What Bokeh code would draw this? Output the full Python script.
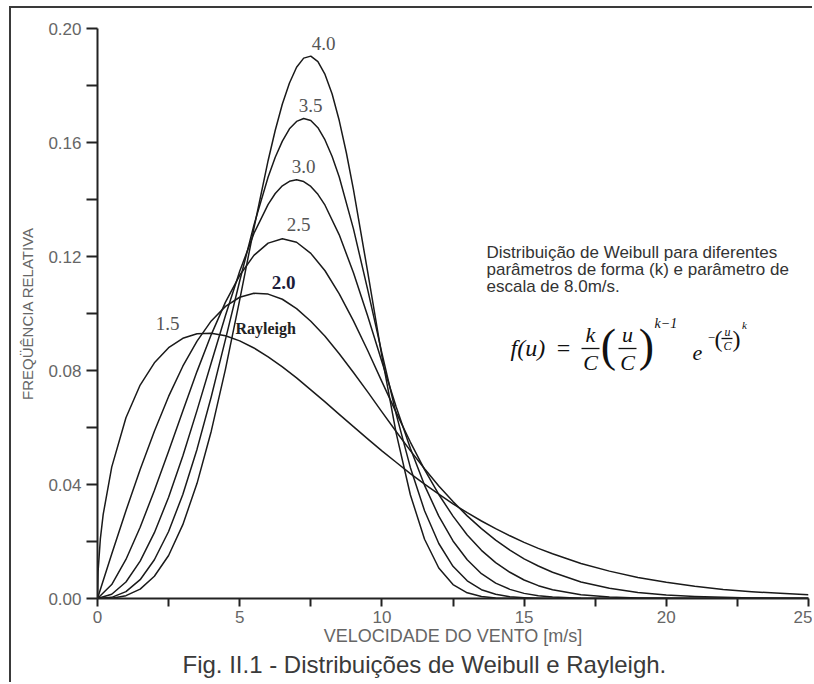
from bokeh.plotting import figure
from bokeh.models import Range1d, FixedTicker, PrintfTickFormatter, Label, Title
from bokeh.embed import file_html
from bokeh.resources import INLINE

# ---------------- data ----------------
x_ticks = [0, 5, 10, 15, 20, 25]
x_minor = [2.5, 7.5, 12.5, 17.5, 22.5]
y_ticks = [0.00, 0.04, 0.08, 0.12, 0.16, 0.20]
y_minor = [0.02, 0.06, 0.10, 0.14, 0.18]

x_base = [0, 0.5, 1, 1.5, 2, 2.5, 3, 3.5, 4, 4.5, 5, 5.5, 6, 6.5, 7, 7.5, 8, 8.5, 9, 9.5,
          10, 10.5, 11, 11.5, 12, 12.5, 13, 13.5, 14, 14.5, 15, 15.5, 16,
          17, 18, 19, 20, 21, 22, 23, 24, 25]

x_k15 = [0, 0.02, 0.1, 0.2, 0.5, 1, 1.5, 2, 2.5, 3, 3.5, 4, 4.5, 5, 5.5, 6, 6.5, 7, 7.5, 8,
         8.5, 9, 9.5, 10, 10.5, 11, 11.5, 12, 12.5, 13, 13.5, 14, 14.5, 15, 15.5, 16,
         17, 18, 19, 20, 21, 22, 23, 24, 25]
f_k15 = [0, 0.0094, 0.0209, 0.0295, 0.0461, 0.0634, 0.0749, 0.0827, 0.0880, 0.0913, 0.0929,
         0.0931, 0.0922, 0.0904, 0.0879, 0.0848, 0.0813, 0.0774, 0.0732, 0.0690, 0.0646,
         0.0603, 0.0560, 0.0518, 0.0478, 0.0438, 0.0401, 0.0366, 0.0332, 0.0301, 0.0272,
         0.0245, 0.0220, 0.0197, 0.0176, 0.0157, 0.0123, 0.0096, 0.0074, 0.0057, 0.0043,
         0.0032, 0.0024, 0.0018, 0.0013]

f_k20 = [0, 0.0156, 0.0308, 0.0453, 0.0587, 0.0709, 0.0815, 0.0903, 0.0974, 0.1025, 0.1057,
         0.1071, 0.1068, 0.1050, 0.1017, 0.0973, 0.0920, 0.0859, 0.0793, 0.0725, 0.0655,
         0.0586, 0.0519, 0.0455, 0.0395, 0.0340, 0.0290, 0.0245, 0.0205, 0.0170, 0.0139,
         0.0114, 0.0092, 0.0058, 0.0036, 0.0021, 0.0012, 0.0007, 0.0004, 0.0002, 0.0001, 0.0]

f_k25 = [0, 0.0049, 0.0137, 0.0250, 0.0379, 0.0517, 0.0658, 0.0797, 0.0926, 0.1040, 0.1134,
         0.1204, 0.1247, 0.1262, 0.1250, 0.1211, 0.1150, 0.1069, 0.0974, 0.0870, 0.0761,
         0.0653, 0.0549, 0.0452, 0.0365, 0.0289, 0.0223, 0.0169, 0.0126, 0.0092, 0.0065,
         0.0045, 0.0031, 0.0013, 0.0005, 0.0002, 0.0001, 0, 0, 0, 0, 0]

x_k30 = [0, 0.5, 1, 1.5, 2, 2.5, 3, 3.5, 4, 4.5, 5, 5.5, 6, 6.25, 6.5, 6.75, 7, 7.25, 7.5,
         7.75, 8, 8.5, 9, 9.5, 10, 10.5, 11, 11.5, 12, 12.5, 13, 13.5, 14, 14.5, 15, 15.5,
         16, 17, 18, 25]
f_k30 = [0, 0.0015, 0.0058, 0.0131, 0.0231, 0.0355, 0.0500, 0.0660, 0.0827, 0.0993, 0.1148,
         0.1281, 0.1383, 0.1421, 0.1448, 0.1464, 0.1469, 0.1463, 0.1446, 0.1418, 0.1380,
         0.1276, 0.1143, 0.0991, 0.0831, 0.0673, 0.0527, 0.0397, 0.0289, 0.0202, 0.0136,
         0.0087, 0.0054, 0.0032, 0.0018, 0.0010, 0.0005, 0.0001, 0, 0]

x_k35 = [0, 0.5, 1, 1.5, 2, 2.5, 3, 3.5, 4, 4.5, 5, 5.5, 6, 6.25, 6.5, 6.75, 7, 7.25, 7.5,
         7.75, 8, 8.25, 8.5, 9, 9.5, 10, 10.5, 11, 11.5, 12, 12.5, 13, 13.5, 14, 14.5, 15,
         15.5, 16, 25]
f_k35 = [0, 0.0004, 0.0024, 0.0066, 0.0136, 0.0235, 0.0365, 0.0524, 0.0708, 0.0909, 0.1114,
         0.1310, 0.1479, 0.1548, 0.1605, 0.1648, 0.1674, 0.1684, 0.1677, 0.1652, 0.1609,
         0.1551, 0.1479, 0.1297, 0.1084, 0.0861, 0.0648, 0.0460, 0.0308, 0.0193, 0.0113,
         0.0062, 0.0031, 0.0015, 0.0006, 0.0003, 0.0001, 0, 0]

x_k40 = [0, 0.5, 1, 1.5, 2, 2.5, 3, 3.5, 4, 4.5, 5, 5.5, 6, 6.25, 6.5, 6.75, 7, 7.25, 7.5,
         7.75, 8, 8.25, 8.5, 8.75, 9, 9.5, 10, 10.5, 11, 11.5, 12, 12.5, 13, 13.5, 14, 14.5,
         15, 25]
f_k40 = [0, 0.0001, 0.0010, 0.0033, 0.0078, 0.0151, 0.0259, 0.0404, 0.0587, 0.0805, 0.1048,
         0.1299, 0.1537, 0.1643, 0.1735, 0.1809, 0.1864, 0.1896, 0.1903, 0.1884, 0.1839,
         0.1770, 0.1677, 0.1564, 0.1435, 0.1146, 0.0850, 0.0581, 0.0364, 0.0208, 0.0107,
         0.0049, 0.0020, 0.0007, 0.0002, 0.0001, 0, 0]

series = [(x_k15, f_k15), (x_base, f_k20), (x_base, f_k25),
          (x_k30, f_k30), (x_k35, f_k35), (x_k40, f_k40)]

# ---------------- figure ----------------
p = figure(width=803, height=676, output_backend="svg", toolbar_location=None,
           x_range=Range1d(0, 25), y_range=Range1d(0, 0.2),
           min_border_left=86, min_border_right=6, min_border_top=20, min_border_bottom=86)
p.styles = {"margin-left": "9px", "margin-top": "6px",
            "border-top": "2px solid #3a3a3a", "border-left": "2px solid #3a3a3a"}
p.outline_line_color = None
p.xgrid.visible = False
p.ygrid.visible = False
p.background_fill_color = "white"
p.border_fill_color = "white"

# axes
p.xaxis.ticker = FixedTicker(ticks=x_ticks, minor_ticks=x_minor)
p.yaxis.ticker = FixedTicker(ticks=y_ticks, minor_ticks=y_minor)
p.yaxis.formatter = PrintfTickFormatter(format="%.2f")
for ax in (p.xaxis[0], p.yaxis[0]):
    ax.axis_line_width = 2
    ax.axis_line_color = "#222222"
    ax.major_tick_line_width = 2
    ax.minor_tick_line_width = 2
    ax.major_tick_line_color = "#222222"
    ax.minor_tick_line_color = "#222222"
    ax.major_tick_in = 0
    ax.minor_tick_in = 0
    ax.major_label_text_font = "Liberation Sans"
    ax.major_label_text_font_size = "17px"
    ax.major_label_text_color = "#666666"
    ax.axis_label_text_font = "Liberation Sans"
    ax.axis_label_text_font_style = "normal"
    ax.axis_label_text_color = "#666666"

p.xaxis.major_tick_out = 8
p.xaxis.minor_tick_out = 8
p.xaxis.major_label_standoff = 4
p.xaxis.axis_label = "VELOCIDADE DO VENTO [m/s]"
p.xaxis.axis_label_text_font_size = "18px"
p.xaxis.axis_label_standoff = 0

p.yaxis.major_tick_out = 11
p.yaxis.minor_tick_out = 11
p.yaxis.major_label_standoff = 5
p.yaxis.axis_label = "FREQÜÊNCIA RELATIVA"
p.yaxis.axis_label_text_font_size = "15px"
p.yaxis.axis_label_standoff = 9

# caption
cap = Title(text="Fig. II.1 - Distribuições de Weibull e Rayleigh.", align="left", offset=85,
            text_font="Liberation Sans", text_font_size="24px", text_font_style="normal",
            text_color="#3a3a3a", standoff=0)
p.add_layout(cap, "below")

# curves
for xs, ys in series:
    p.line(xs, ys, line_color="#1a1a1a", line_width=1.5, line_join="round")

# ---------------- annotations ----------------
PXU = 711 / 25.0


def X(px):
    return (px - 97) / PXU


def Y(py):
    return (598 - py) / 2850.0


def lab(px, py, text, size, font="Liberation Serif", style="normal", color="#222222",
        align="center"):
    p.add_layout(Label(x=X(px), y=Y(py), text=text, text_font=font, text_font_size=size,
                       text_font_style=style, text_color=color, text_align=align,
                       text_baseline="middle"))


# curve labels
lab(323, 43, "4.0", "19px", color="#555555")
lab(310, 105, "3.5", "19px", color="#555555")
lab(303, 166, "3.0", "19px", color="#555555")
lab(298, 224, "2.5", "19px", color="#555555")
lab(283, 282, "2.0", "19px", style="bold", color="#1c1c3a")
lab(167, 323, "1.5", "19px", color="#555555")
lab(235, 328, "Rayleigh", "16px", style="bold", color="#222222", align="left")

# description text
desc = ["Distribuição de Weibull para diferentes",
        "parâmetros de forma (k) e parâmetro de",
        "escala de 8.0m/s."]
for i, line in enumerate(desc):
    lab(486, 252 + 17 * i, line, "17px", font="Liberation Sans", color="#333333", align="left")

# formula f(u) = k/C (u/C)^(k-1) e^-(u/C)^k
FC = "#111111"
lab(510, 347, "f(u)", "24px", style="italic", color=FC, align="left")
lab(563, 347, "=", "24px", color=FC)
lab(590, 334, "k", "22px", style="italic", color=FC)
lab(590, 362, "C", "22px", style="italic", color=FC)
lab(608, 345, "(", "46px", color=FC)
lab(627, 334, "u", "22px", style="italic", color=FC)
lab(627, 362, "C", "22px", style="italic", color=FC)
lab(646, 345, ")", "46px", color=FC)
lab(654, 323, "k−1", "14px", style="italic", color=FC, align="left")
lab(697, 352, "e", "22px", style="italic", color=FC)
lab(711, 337, "−", "13px", color=FC)
lab(718, 338, "(", "24px", color=FC)
lab(727, 331, "u", "12px", style="italic", color=FC)
lab(727, 345, "C", "12px", style="italic", color=FC)
lab(736, 338, ")", "24px", color=FC)
lab(744, 324, "k", "11px", style="italic", color=FC)
p.segment(x0=[X(581), X(618), X(721)], y0=[Y(348), Y(348), Y(338)],
          x1=[X(599), X(636), X(732)], y1=[Y(348), Y(348), Y(338)],
          line_color=FC, line_width=1.3)

open("out.html", "w").write(file_html(p, INLINE))
